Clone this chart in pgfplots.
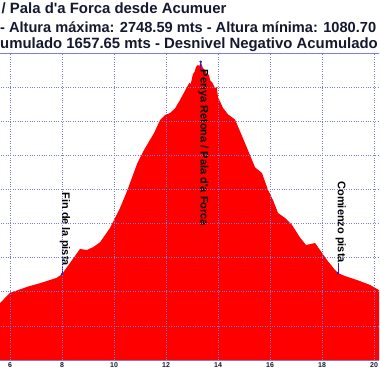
\documentclass[border=0pt]{standalone}
\usepackage{fontspec}
\setmainfont{Liberation Sans}
\usepackage{pgfplots}
\pgfplotsset{compat=1.18}
\definecolor{gridc}{RGB}{125,125,215}
\definecolor{txt}{RGB}{20,25,45}
\definecolor{mk}{RGB}{30,30,230}
\pgfplotstableread{
km elev
5.0 1281
5.615 1334
6.0 1393
6.4 1415
6.769 1434
7.15 1450
7.538 1469
7.8 1482
8.0 1504
8.308 1569
8.692 1651
8.962 1645
9.2 1662
9.462 1690
9.846 1774
10.231 1891
10.5 1990
10.9 2155
11.15 2230
11.538 2330
11.769 2406
11.962 2436
12.154 2448
12.346 2475
12.538 2524
12.808 2601
12.9 2625
12.95 2618
13.038 2677
13.1 2690
13.154 2718
13.231 2730
13.28 2722
13.335 2748.59
13.42 2712
13.5 2700
13.6 2668
13.65 2675
13.692 2642
13.8 2622
13.885 2595
13.95 2600
14.0 2542
14.192 2478
14.385 2440
14.654 2410
15.038 2272
15.423 2130
15.692 2096
15.923 1997
16.115 1938
16.308 1862
16.577 1833
16.846 1792
17.154 1718
17.385 1674
17.731 1686
17.923 1645
18.192 1586
18.5 1528
18.615 1510
18.885 1492
19.346 1469
19.846 1440
20.192 1410
20.615 1381
21.0 1360
}\profile
\begin{document}
\begin{tikzpicture}[x=1pt,y=1pt]
\useasboundingbox (0,0) rectangle (379,379);
\clip (0,0) rectangle (379,379);
\begin{axis}[
 at={(-16pt,19pt)}, anchor=south west,
 scale only axis, width=416pt, height=307pt,
 xmin=5, xmax=21, ymin=1000, ymax=2800,
 xtick={6,8,...,20}, xticklabels={6,8,10,12,14,16,18,20},
 ytick={1000,1200,...,2800}, yticklabels={},
 grid=major,
 major grid style={gridc, line width=0.6pt, dash pattern=on 0.8pt off 1.6pt},
 axis line style={gridc, line width=0.8pt},
 major tick length=0pt,
 xticklabel style={font=\bfseries\fontsize{7}{8}\selectfont, text=txt, inner sep=0pt, anchor=north, yshift=-2.5pt},
 axis on top,
]
\addplot[fill=red, draw=none] table[x=km, y=elev] {\profile} \closedcycle;
\addplot[only marks, mark=*, mark size=1pt, mk] coordinates {(8.0,1504) (13.335,2748.59) (18.615,1510)};
\draw[mk, line width=0.6pt] (axis cs:8,1504) -- ([yshift=8pt]axis cs:8,1504);
\draw[mk, line width=0.6pt] (axis cs:13.335,2748.59) -- ([yshift=-8pt]axis cs:13.335,2748.59);
\draw[mk, line width=0.6pt] (axis cs:18.615,1510) -- ([yshift=10pt]axis cs:18.615,1510);
\node[rotate=-90, anchor=base east, inner sep=0pt, text=black, font=\bfseries\fontsize{11}{12}\selectfont] at ([yshift=8pt]axis cs:8,1504) {Fin de la pista};
\node[rotate=-90, anchor=base west, inner sep=0pt, text=black, font=\bfseries\fontsize{11}{12}\selectfont] at ([yshift=-8pt]axis cs:13.335,2748.59) {Penya Retona / Pala d\textquotesingle a Forca};
\node[rotate=-90, anchor=base east, inner sep=0pt, text=black, font=\bfseries\fontsize{11}{12}\selectfont] at ([yshift=10pt]axis cs:18.615,1510) {Comienzo pista};
\end{axis}
\node[anchor=base west, inner sep=0pt, text=txt, font=\bfseries\fontsize{14.9}{16}\selectfont] at (1.5,365) {/ Pala d\textquotesingle a Forca desde Acumuer};
\node[anchor=base west, inner sep=0pt, text=txt, font=\bfseries\fontsize{14.6}{16}\selectfont] at (0,346.5) {- Altura máxima: 2748.59 mts - Altura mínima: 1080.70};
\node[anchor=base west, inner sep=0pt, text=txt, font=\bfseries\fontsize{14.9}{16}\selectfont] at (0,330.7) {umulado 1657.65 mts - Desnivel Negativo Acumulado};
\end{tikzpicture}
\end{document}
